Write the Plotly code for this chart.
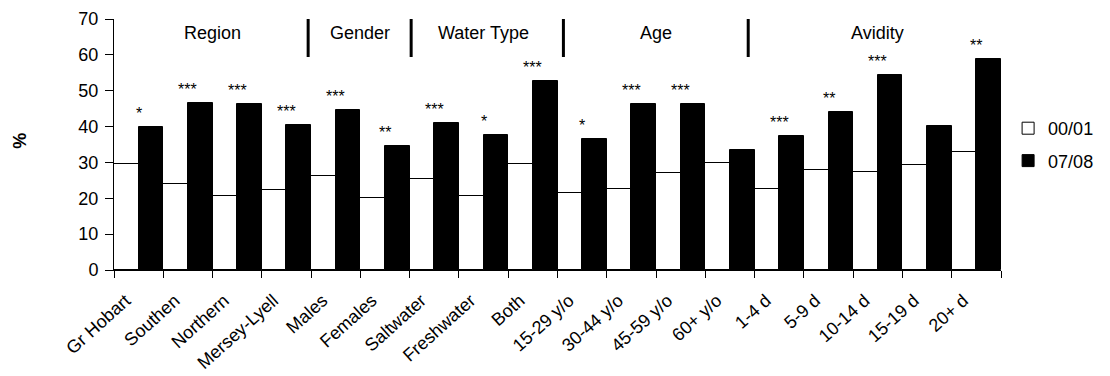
import plotly.graph_objects as go

# Categories along the x axis
categories = ["Gr Hobart", "Southen", "Northern", "Mersey-Lyell", "Males", "Females",
              "Saltwater", "Freshwater", "Both", "15-29 y/o", "30-44 y/o", "45-59 y/o",
              "60+ y/o", "1-4 d", "5-9 d", "10-14 d", "15-19 d", "20+ d"]

# Percentages for each survey period
values_0001 = [29.6, 23.9, 20.6, 22.3, 26.3, 20.2, 25.5, 20.5, 29.6, 21.6, 22.7, 27.1,
               29.9, 22.7, 27.9, 27.4, 29.2, 32.8]
values_0708 = [39.8, 46.7, 46.3, 40.5, 44.7, 34.5, 41.0, 37.7, 52.8, 36.6, 46.2, 46.2,
               33.6, 37.4, 44.2, 54.4, 40.2, 58.8]

# Significance markers for the change between periods
significance = ["*", "***", "***", "***", "***", "**", "***", "*", "***", "*", "***", "***",
                "", "***", "**", "***", "", "**"]

# Category groups (name, number of categories)
group_names = ["Region", "Gender", "Water Type", "Age", "Avidity"]
group_sizes = [4, 2, 3, 4, 5]

# Small horizontal nudges (in category widths) for the hand-placed separator bars
separator_nudge = [-0.06, 0.03, 0.12, -0.13]

FONT = "Liberation Sans, Arial, sans-serif"

fig = go.Figure()
fig.add_trace(go.Bar(
    x=categories, y=values_0001, name="00/01", legendgroup="a",
    marker=dict(color="white", line=dict(color="black", width=1)),
))
fig.add_trace(go.Bar(
    x=categories, y=values_0708, name="07/08", legendgroup="b",
    marker=dict(color="black", line=dict(color="black", width=1)),
))

annotations = []
# Significance stars above each pair
for cat, v, s in zip(categories, values_0708, significance):
    if s:
        annotations.append(dict(
            x=cat, y=v, xref="x", yref="y", text=s, showarrow=False,
            yanchor="bottom", yshift=3, font=dict(size=16, color="black", family=FONT),
        ))

# Group headers and separators
shapes = []
start = 0
for i, (name, size) in enumerate(zip(group_names, group_sizes)):
    center = start + (size - 1) / 2
    annotations.append(dict(
        x=center, y=66.1, xref="x", yref="y", text=name, showarrow=False,
        font=dict(size=18, color="black", family=FONT),
    ))
    end = start + size
    if i < len(group_sizes) - 1:
        xs = end - 0.5 + separator_nudge[i]
        shapes.append(dict(
            type="line", xref="x", yref="y", x0=xs, x1=xs,
            y0=59.4, y1=70.6, line=dict(color="black", width=3),
        ))
    start = end

# y-axis title
annotations.append(dict(
    x=-0.106, y=0.515, xref="paper", yref="paper", text="<b>%</b>", showarrow=False,
    xanchor="center", yanchor="middle",
    textangle=-90, font=dict(size=18, color="black", family=FONT),
))

fig.update_layout(
    width=1110, height=376,
    margin=dict(l=114, r=109, t=19, b=106, autoexpand=False),
    paper_bgcolor="white", plot_bgcolor="white",
    barmode="group", bargap=0, bargroupgap=0,
    font=dict(family=FONT, size=17, color="black"),
    showlegend=True,
    legend=dict(x=1.008, y=0.5, xanchor="left", yanchor="middle",
                font=dict(size=18, color="black", family=FONT),
                itemwidth=30, traceorder="grouped", tracegroupgap=6),
    annotations=annotations,
    shapes=shapes,
    xaxis=dict(
        type="category", range=[-0.5, len(categories) - 0.5],
        tickson="boundaries", ticks="outside", ticklen=7, tickcolor="black",
        showline=True, linecolor="black", linewidth=1,
        tickangle=-42, tickfont=dict(size=18, family=FONT, color="black"),
        ticklabelstandoff=12, ticklabelshift=-13, automargin=False,
        showgrid=False, fixedrange=True,
    ),
    yaxis=dict(
        range=[0, 70], dtick=10, ticks="outside", ticklen=8, tickcolor="black",
        showline=True, linecolor="black", linewidth=1,
        tickfont=dict(size=18, family=FONT, color="black"),
        ticklabelstandoff=3, automargin=False,
        showgrid=False, zeroline=False, fixedrange=True,
    ),
)

fig.write_html("out.html")
